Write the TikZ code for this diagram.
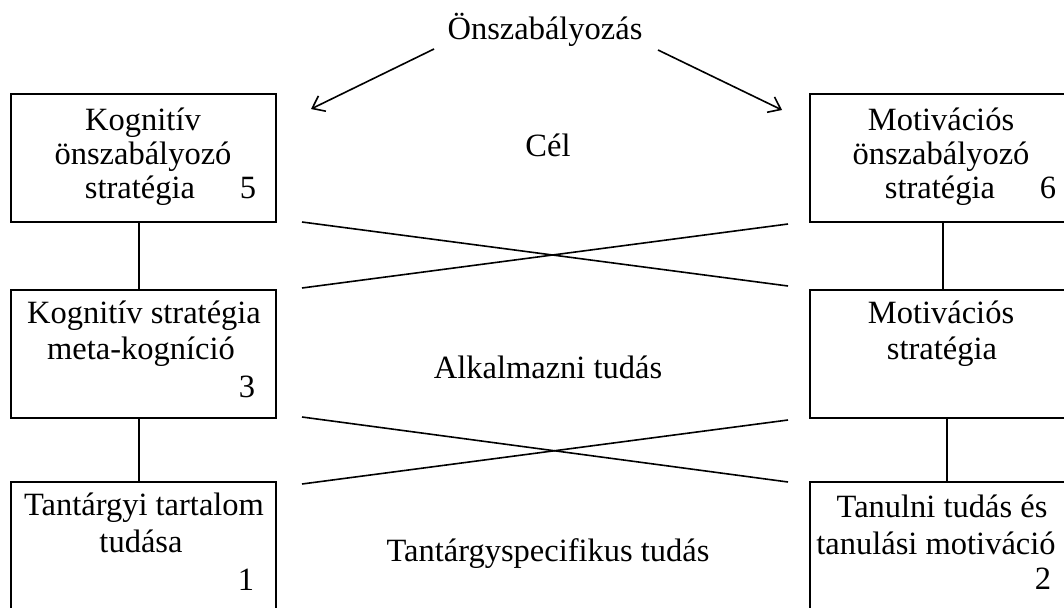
\documentclass[tikz,border=0pt]{standalone}
\usepackage{fontspec}
\setmainfont{Liberation Serif}
\usetikzlibrary{arrows.meta}
\begin{document}
\begin{tikzpicture}[x=1pt,y=-1pt,
  box/.style={draw, line width=1.6pt, inner sep=0pt, outer sep=0pt, minimum width=265pt},
  txt/.style={anchor=base, inner sep=0pt, font=\fontsize{32.5}{37}\selectfont},
  ln/.style={line width=1.6pt},
  arr/.style={line width=1.6pt, -{Straight Barb[angle=75:14pt]}}]
\useasboundingbox (0,0) rectangle (1064,607);
\clip (0,0) rectangle (1064,607);
% boxes
\node[box, minimum height=128pt] (k5) at (143.5,158) {};
\node[box, minimum height=128pt] (k3) at (143.5,354) {};
\node[box, minimum height=140pt] (k1) at (143.5,552) {};
\node[box, minimum height=128pt] (m6) at (942.5,158) {};
\node[box, minimum height=128pt] (m4) at (942.5,354) {};
\node[box, minimum height=140pt] (m2) at (942.5,552) {};
% texts left
\node[txt] (t5a) at (143,130) {Kognitív};
\node[txt] (t5b) at (143,164) {önszabályozó};
\node[txt] (t5c) at (140,198) {stratégia};
\node[txt] (n5) at (248,198) {5};
\node[txt] (t3a) at (144,323) {Kognitív stratégia};
\node[txt] (t3b) at (141,359) {meta-kogníció};
\node[txt] (n3) at (247,397) {3};
\node[txt] (t1a) at (144,515) {Tantárgyi tartalom};
\node[txt] (t1b) at (141,552) {tudása};
\node[txt] (n1) at (246,590) {1};
% texts right
\node[txt] (t6a) at (941,130) {Motivációs};
\node[txt] (t6b) at (941,164) {önszabályozó};
\node[txt] (t6c) at (940,198) {stratégia};
\node[txt] (n6) at (1048,198) {6};
\node[txt] (t4a) at (941,323) {Motivációs};
\node[txt] (t4b) at (942,359) {stratégia};
\node[txt] (t2a) at (942,517) {Tanulni tudás és};
\node[txt] (t2b) at (936,554) {tanulási motiváció};
\node[txt] (n2) at (1043,589) {2};
% middle texts
\node[txt] (top) at (545,40) {Önszabályozás};
\node[txt] (cel) at (548,156) {Cél};
\node[txt] (alk) at (548,378) {Alkalmazni tudás};
\node[txt] (tan) at (548,561) {Tantárgyspecifikus tudás};
% vertical connectors
\draw[ln] ([xshift=-4.5pt]k5.south) -- ([xshift=-4.5pt]k3.north);
\draw[ln] ([xshift=-4.5pt]k3.south) -- ([xshift=-4.5pt]k1.north);
\draw[ln] ([xshift=0.5pt]m6.south) -- ([xshift=0.5pt]m4.north);
\draw[ln] ([xshift=4.5pt]m4.south) -- ([xshift=4.5pt]m2.north);
% crossing lines
\coordinate (a1) at (302,222); \coordinate (a2) at (788,286);
\coordinate (b1) at (302,288); \coordinate (b2) at (788,224);
\coordinate (c1) at (302,417); \coordinate (c2) at (788,482);
\coordinate (d1) at (302,484); \coordinate (d2) at (788,420);
\draw[ln] (a1) -- (a2);
\draw[ln] (b1) -- (b2);
\draw[ln] (c1) -- (c2);
\draw[ln] (d1) -- (d2);
% arrows
\coordinate (s1) at (434,49); \coordinate (e1) at (311,109);
\coordinate (s2) at (658,50); \coordinate (e2) at (782,110);
\draw[arr] (s1) -- (e1);
\draw[arr] (s2) -- (e2);
\end{tikzpicture}
\end{document}
